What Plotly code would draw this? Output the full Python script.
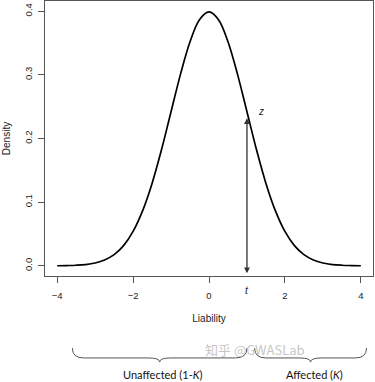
import plotly.graph_objects as go

# Data: standard-normal-looking liability density
liability = [-4.0, -3.75, -3.5, -3.25, -3.0, -2.75, -2.5, -2.25, -2.0, -1.75, -1.5, -1.25,
             -1.0, -0.75, -0.5, -0.25, 0.0, 0.25, 0.5, 0.75, 1.0, 1.25, 1.5, 1.75,
             2.0, 2.25, 2.5, 2.75, 3.0, 3.25, 3.5, 3.75, 4.0]
density = [0.0001, 0.0004, 0.0009, 0.0020, 0.0044, 0.0091, 0.0175, 0.0317, 0.0540, 0.0863,
           0.1295, 0.1826, 0.2420, 0.3011, 0.3521, 0.3867, 0.3989, 0.3867, 0.3521, 0.3011,
           0.2420, 0.1826, 0.1295, 0.0863, 0.0540, 0.0317, 0.0175, 0.0091, 0.0044, 0.0020,
           0.0009, 0.0004, 0.0001]

x_ticks = [-4, -2, 0, 2, 4]
y_ticks = [0.0, 0.1, 0.2, 0.3, 0.4]
y_tick_labels = ["0.0", "0.1", "0.2", "0.3", "0.4"]

threshold_t = 1.0
arrow_top = 0.232
arrow_bottom = -0.014

brace_spans = [(-3.6, 1.0), (1.2, 4.15)]
brace_labels = ["Unaffected (1-<i>K</i>)", "Affected (<i>K</i>)"]

AX = "#555555"
fig = go.Figure()
fig.add_trace(go.Scatter(x=liability, y=density, mode="lines",
                         line=dict(color="black", width=1.7, shape="spline", smoothing=1.0),
                         hoverinfo="skip", showlegend=False))

# double-headed arrow at t
fig.add_annotation(x=threshold_t, y=arrow_top, ax=threshold_t, ay=arrow_bottom,
                   xref="x", yref="y", axref="x", ayref="y", text="", showarrow=True,
                   arrowhead=2, startarrowhead=2, arrowside="end+start",
                   arrowsize=0.9, startarrowsize=0.9, arrowwidth=1.3, arrowcolor="#333333")
fig.add_annotation(x=threshold_t + 0.38, y=0.243, xref="x", yref="y", text="<i>z</i>",
                   showarrow=False, font=dict(size=10, color="#222222", family="Liberation Sans"))
fig.add_annotation(x=threshold_t, y=-0.08, xref="x", yref="paper", text="<i>t</i>",
                   showarrow=False, font=dict(size=10, color="#222222", family="Liberation Sans"))

# braces below the axis
y_top, y_flat, y_tip = -0.262, -0.298, -0.313
for (x0, x1), lab in zip(brace_spans, brace_labels):
    xm = (x0 + x1) / 2
    d = 0.3
    path = (f"M {x0},{y_top} Q {x0},{y_flat} {x0 + d},{y_flat} L {xm - d},{y_flat} "
            f"Q {xm},{y_flat} {xm},{y_tip} Q {xm},{y_flat} {xm + d},{y_flat} "
            f"L {x1 - d},{y_flat} Q {x1},{y_flat} {x1},{y_top}")
    fig.add_shape(type="path", path=path, xref="x", yref="paper",
                  line=dict(color="#555555", width=1))
    fig.add_annotation(x=xm + 0.1, y=-0.357, xref="x", yref="paper", text=lab, showarrow=False,
                       yanchor="middle", font=dict(size=11, color="#111111", family="Lato"))

# watermark
fig.add_annotation(x=0.80, y=-0.309, xref="paper", yref="paper", text="知乎 @GWASLab",
                   showarrow=False, font=dict(size=13, color="rgba(190,190,190,0.9)",
                                              family="Noto Sans CJK SC"))

fig.update_layout(
    width=375, height=382,
    margin=dict(l=45, r=2, t=1, b=106),
    plot_bgcolor="white", paper_bgcolor="white",
    font=dict(family="Liberation Sans", size=10, color="#222222"),
    xaxis=dict(range=[-4.32, 4.32], tickvals=x_ticks, ticks="outside", ticklen=6,
               tickcolor=AX, showline=True, linecolor=AX, linewidth=1, mirror=True,
               showgrid=False, zeroline=False, tickfont=dict(size=9.5), automargin=False,
               ticklabelstandoff=5,
               title=dict(text="Liability", font=dict(size=10), standoff=14)),
    yaxis=dict(range=[-0.016, 0.416], tickvals=y_ticks, ticktext=y_tick_labels,
               ticks="outside", ticklen=6, tickcolor=AX, showline=True, linecolor=AX,
               linewidth=1, mirror=True, showgrid=False, zeroline=False, tickangle=-90,
               tickfont=dict(size=9.5), automargin=False, ticklabelstandoff=2,
               title=dict(text="Density", font=dict(size=10), standoff=10)),
)
fig.write_html("out.html", config={"displayModeBar": False},
               post_script="document.body.style.margin='0';")
